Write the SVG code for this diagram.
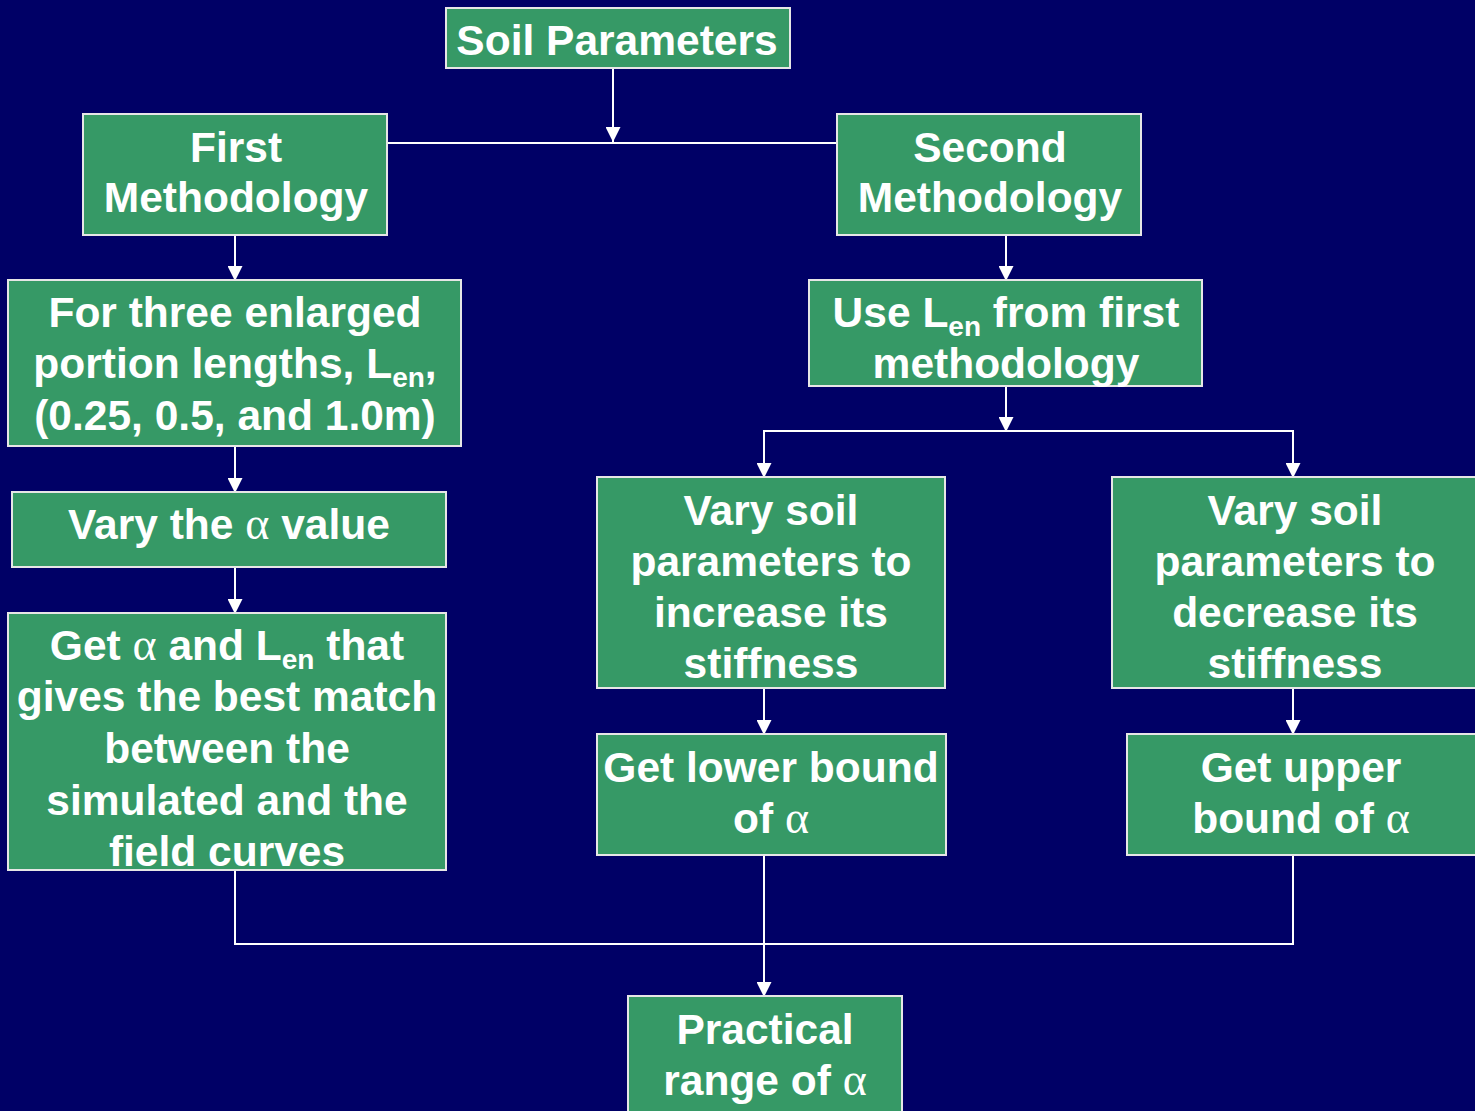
<svg xmlns="http://www.w3.org/2000/svg" width="1475" height="1111" viewBox="0 0 1475 1111">
<style>
.box{fill:#369966;stroke:#e6e6e6;stroke-width:2}
.t{font-family:"Liberation Sans",Arial,sans-serif;font-weight:bold;font-size:42.5px;fill:#ffffff;text-anchor:middle}
.a{font-family:"Liberation Serif","Times New Roman",serif;font-weight:normal;font-size:46px}
.s{font-size:28px}
.c{fill:none;stroke:#ffffff;stroke-width:2}
</style>
<defs>
<marker id="ah" viewBox="0 0 14 14" refX="14" refY="7" markerWidth="15" markerHeight="15" markerUnits="userSpaceOnUse" orient="auto">
<path d="M0,0 L14,7 L0,14 z" fill="#ffffff"/>
</marker>
</defs>
<rect width="1475" height="1111" fill="#000066"/>
<g id="connectors">
<line class="c" x1="613" y1="68" x2="613" y2="142" marker-end="url(#ah)"/>
<line class="c" x1="387" y1="143" x2="837" y2="143"/>
<line class="c" x1="235" y1="235" x2="235" y2="281" marker-end="url(#ah)"/>
<line class="c" x1="1006" y1="235" x2="1006" y2="281" marker-end="url(#ah)"/>
<line class="c" x1="235" y1="446" x2="235" y2="493" marker-end="url(#ah)"/>
<line class="c" x1="235" y1="567" x2="235" y2="614" marker-end="url(#ah)"/>
<line class="c" x1="1006" y1="386" x2="1006" y2="432" marker-end="url(#ah)"/>
<polyline class="c" points="764,478 764,431 1293,431 1293,478"/>
<line class="c" x1="764" y1="440" x2="764" y2="478" marker-end="url(#ah)"/>
<line class="c" x1="1293" y1="440" x2="1293" y2="478" marker-end="url(#ah)"/>
<line class="c" x1="764" y1="688" x2="764" y2="735" marker-end="url(#ah)"/>
<line class="c" x1="1293" y1="688" x2="1293" y2="735" marker-end="url(#ah)"/>
<polyline class="c" points="235,870 235,944 1293,944 1293,855"/>
<line class="c" x1="764" y1="855" x2="764" y2="997" marker-end="url(#ah)"/>
</g>
<g id="soil-parameters">
<rect class="box" x="446" y="8" width="344" height="60"/>
<text class="t" x="617" y="55">Soil Parameters</text>
</g>
<g id="first-methodology">
<rect class="box" x="83" y="114" width="304" height="121"/>
<text class="t" x="236" y="162">First</text>
<text class="t" x="236" y="212">Methodology</text>
</g>
<g id="second-methodology">
<rect class="box" x="837" y="114" width="304" height="121"/>
<text class="t" x="990" y="162">Second</text>
<text class="t" x="990" y="212">Methodology</text>
</g>
<g id="three-lengths">
<rect class="box" x="8" y="280" width="453" height="166"/>
<text class="t" x="235" y="327">For three enlarged</text>
<text class="t" x="235" y="378">portion lengths, L<tspan class="s" dy="9">en</tspan><tspan dy="-9">,</tspan></text>
<text class="t" x="235" y="430">(0.25, 0.5, and 1.0m)</text>
</g>
<g id="use-len">
<rect class="box" x="809" y="280" width="393" height="106"/>
<text class="t" x="1006" y="327">Use L<tspan class="s" dy="9">en</tspan><tspan dy="-9"> from first</tspan></text>
<text class="t" x="1006" y="378">methodology</text>
</g>
<g id="vary-alpha">
<rect class="box" x="12" y="492" width="434" height="75"/>
<text class="t" x="229" y="539">Vary the <tspan class="a">α</tspan> value</text>
</g>
<g id="best-match">
<rect class="box" x="8" y="613" width="438" height="257"/>
<text class="t" x="227" y="660">Get <tspan class="a">α</tspan> and L<tspan class="s" dy="9">en</tspan><tspan dy="-9"> that</tspan></text>
<text class="t" x="227" y="711">gives the best match</text>
<text class="t" x="227" y="763">between the</text>
<text class="t" x="227" y="815">simulated and the</text>
<text class="t" x="227" y="866">field curves</text>
</g>
<g id="increase-stiffness">
<rect class="box" x="597" y="477" width="348" height="211"/>
<text class="t" x="771" y="525">Vary soil</text>
<text class="t" x="771" y="576">parameters to</text>
<text class="t" x="771" y="627">increase its</text>
<text class="t" x="771" y="678">stiffness</text>
</g>
<g id="decrease-stiffness">
<rect class="box" x="1112" y="477" width="370" height="211"/>
<text class="t" x="1295" y="525">Vary soil</text>
<text class="t" x="1295" y="576">parameters to</text>
<text class="t" x="1295" y="627">decrease its</text>
<text class="t" x="1295" y="678">stiffness</text>
</g>
<g id="lower-bound">
<rect class="box" x="597" y="734" width="349" height="121"/>
<text class="t" x="771" y="782">Get lower bound</text>
<text class="t" x="771" y="833">of <tspan class="a">α</tspan></text>
</g>
<g id="upper-bound">
<rect class="box" x="1127" y="734" width="355" height="121"/>
<text class="t" x="1301" y="782">Get upper</text>
<text class="t" x="1301" y="833">bound of <tspan class="a">α</tspan></text>
</g>
<g id="practical-range">
<rect class="box" x="628" y="996" width="274" height="122"/>
<text class="t" x="765" y="1044">Practical</text>
<text class="t" x="765" y="1095">range of <tspan class="a">α</tspan></text>
</g>
</svg>
